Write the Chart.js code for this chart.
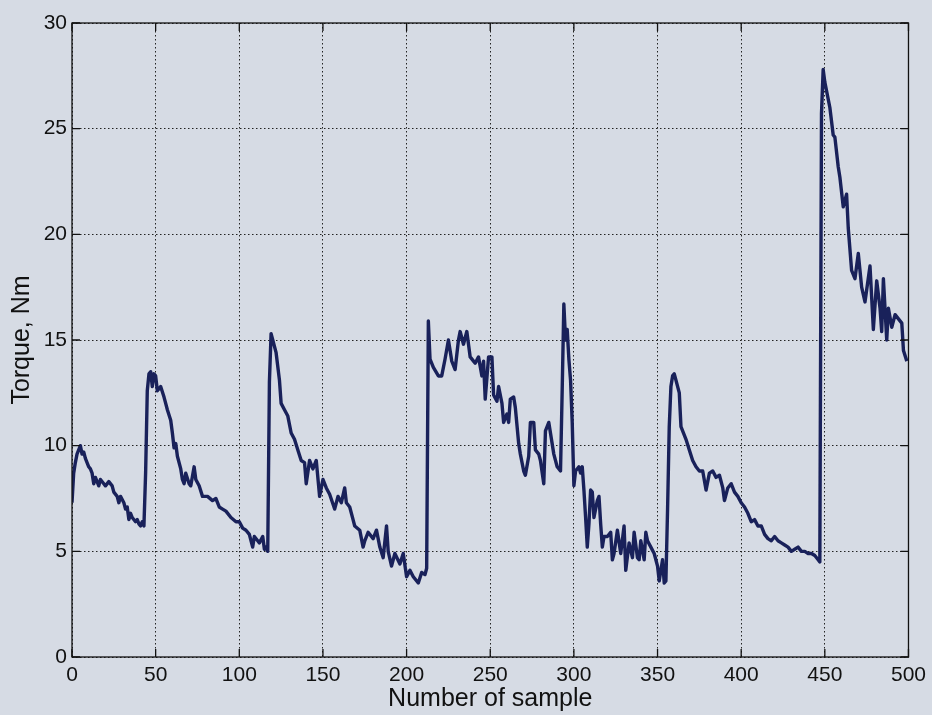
<!DOCTYPE html>
<html>
<head>
<meta charset="utf-8">
<title>Torque vs number of sample</title>
<script src="https://cdn.jsdelivr.net/npm/chart.js@4.4.1/dist/chart.umd.min.js"></script>
<style>
  html, body { margin: 0; padding: 0; background: #d6dbe4; }
  #wrap { position: relative; width: 932px; height: 715px; }
</style>
</head>
<body>
<div id="wrap"><canvas id="torqueChart" width="932" height="715"></canvas></div>
<script>
// ── Data ────────────────────────────────────────────────────────────────────

const SAMPLE_NO = [
  0, 1, 2, 3, 5, 6, 7, 8, 10, 11, 12, 13, 14, 16, 17, 19, 20, 22, 24, 25,
  27, 28, 29, 31, 32, 33, 34, 35, 36, 38, 39, 40, 41, 42, 43, 44, 45, 46, 47, 48,
  49, 50, 51, 53, 55, 56, 57, 59, 60, 61, 62, 63, 65, 66, 67, 68, 70, 71, 73, 74,
  76, 78, 81, 84, 86, 88, 90, 92, 95, 98, 100, 102, 104, 106, 108, 109, 111, 112, 114, 115,
  116, 117, 118, 119, 120, 122, 124, 125, 127, 129, 131, 133, 135, 137, 139, 140, 142, 144, 146, 148,
  150, 152, 154, 157, 159, 161, 163, 164, 166, 168, 169, 172, 174, 175, 177, 180, 182, 184, 186, 188,
  189, 191, 193, 196, 198, 200, 202, 204, 207, 209, 211, 212, 213, 214, 216, 219, 221, 223, 225, 227,
  229, 231, 232, 234, 236, 238, 240, 241, 243, 245, 246, 247, 249, 251, 252, 254, 255, 257, 258, 260,
  261, 262, 264, 265, 267, 268, 270, 271, 273, 274, 276, 277, 279, 280, 282, 283, 285, 286, 288, 290,
  292, 293, 294, 295, 296, 297, 298, 299, 300, 301, 303, 304, 305, 306, 307, 308, 309, 310, 311, 312,
  314, 315, 316, 317, 318, 320, 322, 323, 324, 326, 328, 330, 331, 333, 335, 336, 338, 339, 340, 342,
  343, 344, 346, 348, 350, 351, 353, 354, 355, 356, 357, 358, 359, 360, 361, 363, 364, 365, 367, 369,
  371, 373, 375, 377, 379, 381, 383, 385, 387, 389, 390, 392, 394, 396, 398, 400, 402, 404, 406, 408,
  410, 412, 414, 416, 418, 420, 422, 424, 426, 428, 430, 432, 434, 436, 438, 440, 442, 444, 446, 447,
  448, 449, 450, 451, 453, 455, 456, 458, 459, 461, 463, 464, 466, 468, 470, 472, 474, 477, 479, 481,
  483, 484, 485, 487, 488, 490, 492, 494, 496, 497, 499
];

const TORQUE_NM = [
  7.3, 8.7, 9.2, 9.6, 10.0, 9.6, 9.7, 9.4, 9.0, 8.9, 8.7, 8.2, 8.5, 8.1, 8.4, 8.2, 8.1, 8.3, 8.1, 7.8,
  7.6, 7.3, 7.6, 7.3, 7.0, 7.1, 6.5, 6.8, 6.6, 6.4, 6.5, 6.3, 6.2, 6.4, 6.2, 8.7, 12.6, 13.4, 13.5, 12.8,
  13.4, 13.3, 12.6, 12.8, 12.3, 12.0, 11.7, 11.2, 10.6, 9.9, 10.1, 9.5, 8.9, 8.4, 8.2, 8.7, 8.2, 8.1, 9.0, 8.4,
  8.1, 7.6, 7.6, 7.4, 7.5, 7.1, 7.0, 6.9, 6.6, 6.4, 6.4, 6.1, 6.0, 5.8, 5.2, 5.7, 5.5, 5.4, 5.7, 5.1,
  5.2, 5.0, 13.0, 15.3, 15.0, 14.4, 13.1, 12.0, 11.7, 11.4, 10.6, 10.3, 9.8, 9.3, 9.2, 8.2, 9.3, 8.9, 9.3, 7.6,
  8.4, 8.0, 7.7, 7.0, 7.6, 7.3, 8.0, 7.3, 7.1, 6.5, 6.2, 6.0, 5.2, 5.5, 5.9, 5.6, 6.0, 5.2, 4.7, 6.2,
  5.0, 4.3, 4.9, 4.4, 4.9, 3.8, 4.1, 3.8, 3.5, 4.0, 3.9, 4.2, 15.9, 14.1, 13.7, 13.3, 13.3, 14.1, 15.0, 14.0,
  13.6, 15.0, 15.4, 14.8, 15.4, 14.2, 14.0, 13.9, 14.2, 13.3, 14.0, 12.2, 14.2, 14.2, 12.4, 12.1, 12.8, 12.0, 11.1, 11.5,
  11.1, 12.2, 12.3, 11.8, 10.1, 9.6, 8.8, 8.6, 9.5, 11.1, 11.1, 9.8, 9.6, 9.3, 8.2, 10.7, 11.1, 10.6, 9.6, 9.0,
  8.8, 12.6, 16.7, 15.0, 15.5, 14.1, 13.1, 11.1, 8.1, 8.8, 9.0, 8.7, 9.0, 7.9, 6.6, 5.2, 6.3, 7.9, 7.8, 6.6,
  7.4, 7.6, 6.3, 5.2, 5.7, 5.7, 5.9, 4.6, 4.9, 6.0, 4.9, 6.2, 4.1, 5.4, 4.7, 5.9, 4.7, 4.6, 5.5, 4.6,
  5.9, 5.5, 5.2, 4.9, 4.3, 3.6, 4.6, 3.5, 3.6, 7.0, 10.9, 12.8, 13.3, 13.4, 13.1, 12.5, 10.9, 10.7, 10.3, 9.8,
  9.3, 9.0, 8.8, 8.8, 7.9, 8.7, 8.8, 8.5, 8.6, 8.0, 7.4, 8.0, 8.2, 7.8, 7.6, 7.3, 7.1, 6.8, 6.4, 6.5,
  6.2, 6.2, 5.8, 5.6, 5.5, 5.7, 5.5, 5.4, 5.3, 5.2, 5.0, 5.1, 5.2, 5.0, 5.0, 4.9, 4.9, 4.8, 4.6, 4.5,
  25.7, 27.8, 27.2, 26.8, 26.0, 24.7, 24.6, 23.2, 22.7, 21.3, 21.9, 20.3, 18.3, 17.9, 19.1, 17.5, 16.8, 18.5, 15.5, 17.8,
  16.5, 15.4, 17.9, 15.0, 16.5, 15.6, 16.2, 16.0, 15.8, 14.5, 14.0
];

const X_TICKS = [0, 50, 100, 150, 200, 250, 300, 350, 400, 450, 500];
const Y_TICKS = [0, 5, 10, 15, 20, 25, 30];

const X_TITLE = 'Number of sample';
const Y_TITLE = 'Torque, Nm';

// ── Look ────────────────────────────────────────────────────────────────────

const FONT_FAMILY = '"Liberation Sans", Arial, Helvetica, sans-serif';
const INK = '#111111';
const LINE_COLOR = '#19215a';
const TICK_LEN = 8;

// MATLAB-style closed box with inward tick marks on all four sides
const matlabBox = {
  id: 'matlabBox',
  afterDatasetsDraw(chart) {
    const { ctx, chartArea: a, scales: { x, y } } = chart;
    ctx.save();
    ctx.strokeStyle = INK;
    ctx.lineWidth = 1.3;
    ctx.setLineDash([]);
    ctx.strokeRect(a.left, a.top, a.right - a.left, a.bottom - a.top);
    ctx.beginPath();
    x.ticks.forEach(t => {
      const px = x.getPixelForValue(t.value);
      ctx.moveTo(px, a.bottom); ctx.lineTo(px, a.bottom - TICK_LEN);
      ctx.moveTo(px, a.top);    ctx.lineTo(px, a.top + TICK_LEN);
    });
    y.ticks.forEach(t => {
      const py = y.getPixelForValue(t.value);
      ctx.moveTo(a.left, py);  ctx.lineTo(a.left + TICK_LEN, py);
      ctx.moveTo(a.right, py); ctx.lineTo(a.right - TICK_LEN, py);
    });
    ctx.stroke();
    ctx.restore();
  }
};

const points = SAMPLE_NO.map((s, i) => ({ x: s, y: TORQUE_NM[i] }));

const gridOpts = {
  color: '#222222',
  lineWidth: 1,
  drawTicks: false,
};

new Chart(document.getElementById('torqueChart'), {
  type: 'line',
  data: {
    datasets: [{
      data: points,
      borderColor: LINE_COLOR,
      borderWidth: 3.4,
      pointRadius: 0,
      tension: 0,
      fill: false,
      borderJoinStyle: 'round',
    }],
  },
  options: {
    responsive: false,
    animation: false,
    events: [],
    layout: { padding: { top: 23, right: 22, bottom: 0, left: 0 } },
    plugins: {
      legend: { display: false },
      tooltip: { enabled: false },
    },
    scales: {
      x: {
        type: 'linear',
        min: 0,
        max: 500,
        afterBuildTicks: scale => { scale.ticks = X_TICKS.map(v => ({ value: v })); },
        afterFit: scale => { scale.height = 58; },
        grid: gridOpts,
        border: { display: false, dash: [1.5, 2.5] },
        ticks: {
          color: INK,
          padding: 6,
          maxRotation: 0,
          font: { family: FONT_FAMILY, size: 21 },
        },
        title: {
          display: true,
          text: X_TITLE,
          color: INK,
          padding: { top: 0, bottom: 1 },
          font: { family: FONT_FAMILY, size: 25, lineHeight: 1.2 },
        },
      },
      y: {
        type: 'linear',
        min: 0,
        max: 30,
        afterBuildTicks: scale => { scale.ticks = Y_TICKS.map(v => ({ value: v })); },
        afterFit: scale => { scale.width = 72; },
        grid: gridOpts,
        border: { display: false, dash: [1.5, 2.5] },
        ticks: {
          color: INK,
          padding: 5,
          font: { family: FONT_FAMILY, size: 21 },
        },
        title: {
          display: true,
          text: Y_TITLE,
          color: INK,
          padding: { top: 7, bottom: 0 },
          font: { family: FONT_FAMILY, size: 25, lineHeight: 1.2 },
        },
      },
    },
  },
  plugins: [matlabBox],
});
</script>
</body>
</html>
